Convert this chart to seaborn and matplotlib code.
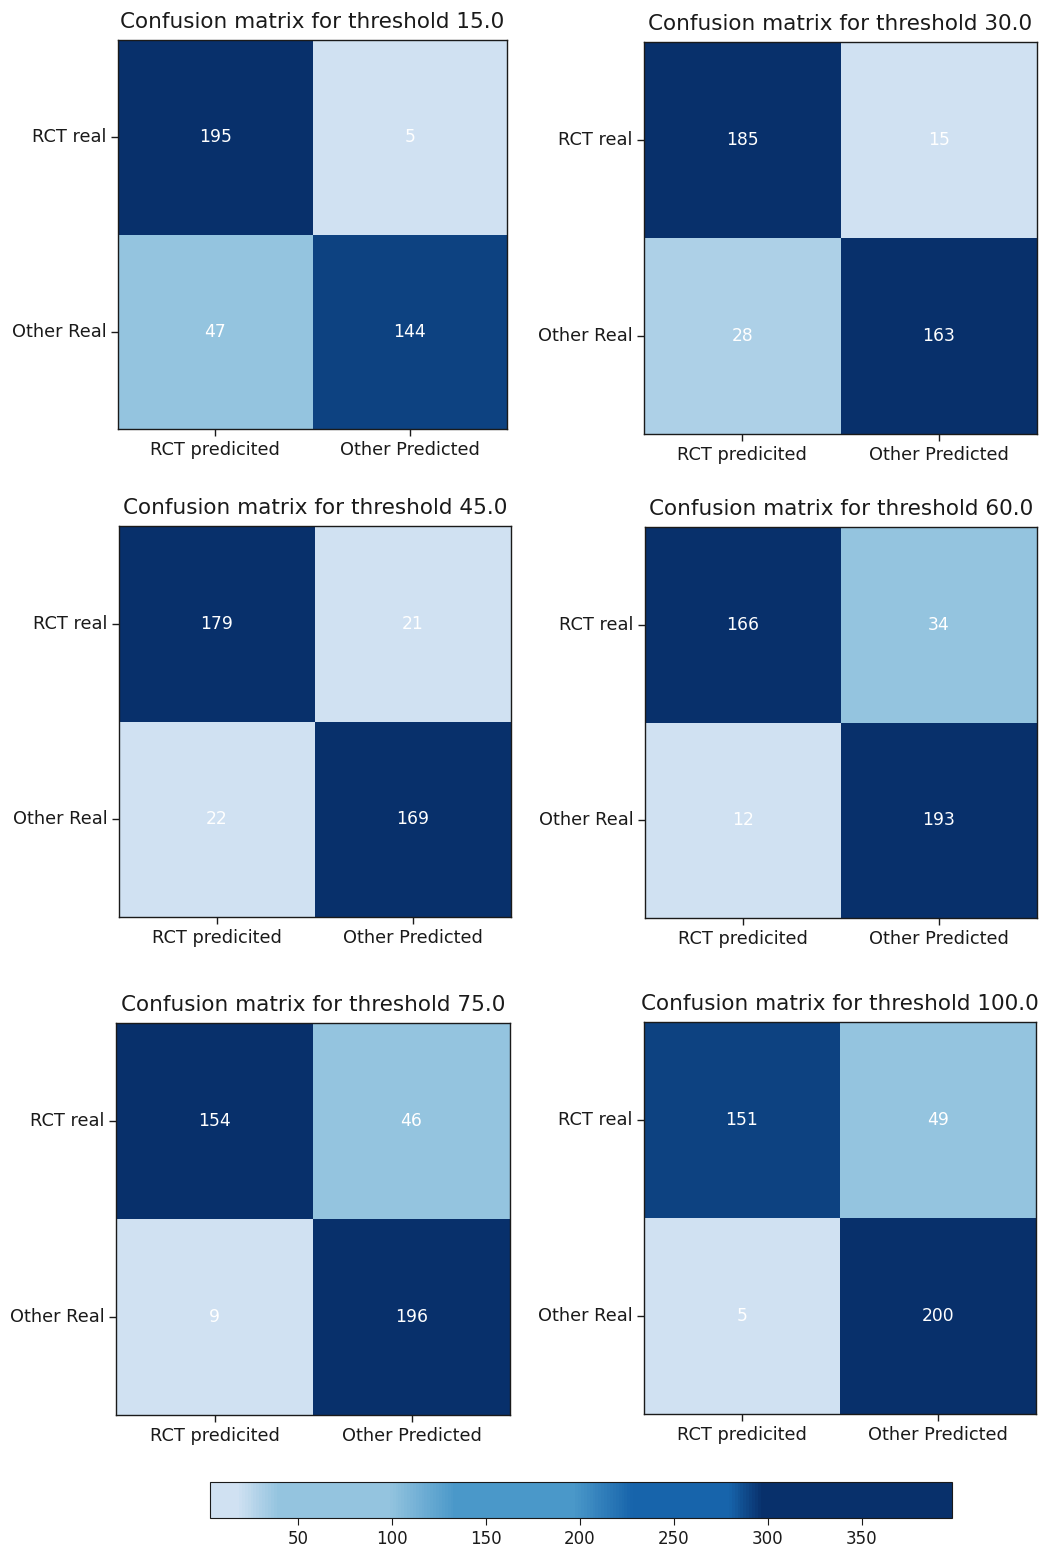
import numpy as np
import matplotlib
matplotlib.use("Agg")
import matplotlib.pyplot as plt
from matplotlib.colors import LinearSegmentedColormap, Normalize
from matplotlib.cm import ScalarMappable
import seaborn as sns

# Confusion-matrix counts per decision threshold
thresholds = [15.0, 30.0, 45.0, 60.0, 75.0, 100.0]
rct_as_rct = [195, 185, 179, 166, 154, 151]      # RCT real, RCT predicted
rct_as_other = [5, 15, 21, 34, 46, 49]           # RCT real, Other predicted
other_as_rct = [47, 28, 22, 12, 9, 5]            # Other real, RCT predicted
other_as_other = [144, 163, 169, 193, 196, 200]  # Other real, Other predicted

pred_labels = ["RCT predicited", "Other Predicted"]
real_labels = ["RCT real", "Other Real"]

colorbar_range = (3, 398)
colorbar_ticks = [50, 100, 150, 200, 250, 300, 350]

# Stepped blue palette
cmap = LinearSegmentedColormap.from_list(
    "stepped_blues",
    [(0.000, "#d0e1f2"), (0.035, "#d0e1f2"), (0.090, "#94c4df"),
     (0.240, "#94c4df"), (0.330, "#4a98c9"), (0.490, "#4a98c9"),
     (0.570, "#1764ab"), (0.700, "#1764ab"), (0.745, "#08306b"),
     (1.000, "#08306b")],
)

W, H = 1043, 1549
fig = plt.figure(figsize=(W / 100, H / 100), dpi=100)

# axes boxes in pixels: (left, top, width, height)
boxes = [
    (118, 40, 389, 389),
    (644, 42, 393, 392),
    (119, 526, 392, 391),
    (645, 527, 392, 391),
    (116, 1023, 394, 392),
    (644, 1022, 392, 392),
]


def px_axes(left, top, width, height):
    return fig.add_axes([left / W, 1 - (top + height) / H, width / W, height / H])


for i, thr in enumerate(thresholds):
    counts = np.array([[rct_as_rct[i], rct_as_other[i]],
                       [other_as_rct[i], other_as_other[i]]])
    share = counts / counts.sum(axis=1, keepdims=True)
    ax = px_axes(*boxes[i])
    sns.heatmap(share, ax=ax, cmap=cmap, vmin=0.082, vmax=1.006,
                annot=counts, fmt="d", cbar=False,
                annot_kws={"color": "white", "fontsize": 12.3},
                xticklabels=pred_labels, yticklabels=real_labels)
    for sp in ax.spines.values():
        sp.set_visible(True)
        sp.set_color("#1a1a1a")
        sp.set_linewidth(1.0)
    ax.tick_params(axis="both", length=5, width=1, labelsize=12.8,
                   colors="#1a1a1a", labelcolor="#1a1a1a")
    ax.set_yticklabels(real_labels, rotation=0, va="center")
    ax.set_xticklabels(pred_labels, rotation=0)
    ax.set_title(f"Confusion matrix for threshold {thr}", fontsize=15.5,
                 color="#1a1a1a", pad=8.5)

cax = px_axes(210, 1482, 742, 36)
sm = ScalarMappable(norm=Normalize(*colorbar_range), cmap=cmap)
cb = fig.colorbar(sm, cax=cax, orientation="horizontal", ticks=colorbar_ticks)
cb.outline.set_edgecolor("#1a1a1a")
cb.ax.tick_params(labelsize=12, length=5, colors="#1a1a1a")

fig.savefig("out.png", dpi=100)
